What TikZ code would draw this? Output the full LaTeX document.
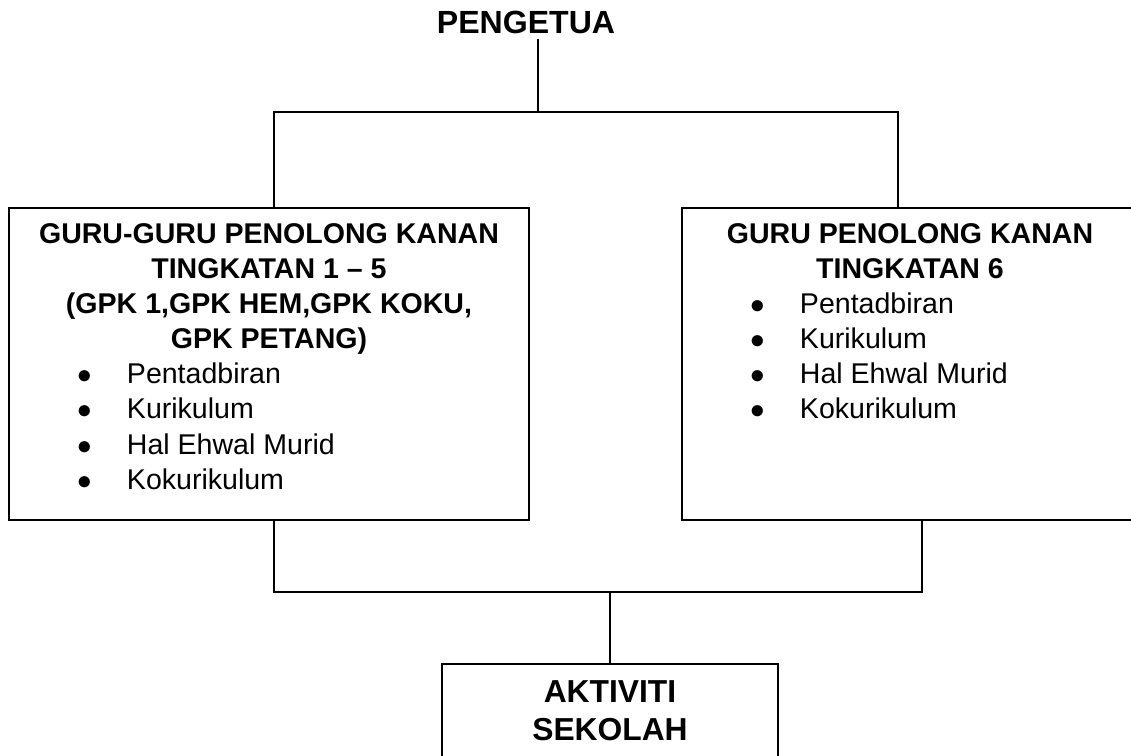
\documentclass[tikz,border=0pt]{standalone}
\usepackage{fontspec}
\setmainfont{Liberation Sans}
\usepackage{tikz}
\usetikzlibrary{calc}

\newcommand{\butir}[1]{\par\noindent\hspace*{1.9cm}\makebox[0pt]{$\bullet$}\hspace*{1.05cm}#1}

\tikzset{
  kotak/.style={draw, line width=1.4pt, inner sep=0pt},
  garis/.style={line width=1.4pt},
  isi/.style={font=\fontsize{20.3pt}{25pt}\selectfont}
}

\begin{document}
\begin{tikzpicture}[x=0.025cm, y=-0.025cm]
      \useasboundingbox (0,0) rectangle (1131,756);
      \clip (0,0) rectangle (1131,756);

      \node [anchor=base, inner sep=4pt, font=\fontsize{22.8pt}{27pt}\selectfont\bfseries] (pengetua) at (526,33) {PENGETUA};

      \node [kotak, isi] (kiri) at (269,364)
            {\parbox[c][7.8cm][t]{13cm}{\vspace*{0.38cm}\centering\bfseries
              GURU-GURU PENOLONG KANAN\\ TINGKATAN 1 – 5\\ (GPK 1,GPK HEM,GPK KOKU,\\ GPK PETANG)\par
              \raggedright\mdseries
              \butir{Pentadbiran}\butir{Kurikulum}\butir{Hal Ehwal Murid}\butir{Kokurikulum}}};
      \node [kotak, isi] (kanan) at (910,364)
            {\parbox[c][7.8cm][t]{11.4cm}{\vspace*{0.38cm}\centering\bfseries
              GURU PENOLONG KANAN\\ TINGKATAN 6\par
              \raggedright\mdseries
              \butir{Pentadbiran}\butir{Kurikulum}\butir{Hal Ehwal Murid}\butir{Kokurikulum}}};
      \node [kotak, font=\fontsize{22.6pt}{27pt}\selectfont\bfseries] (aktiviti) at (610,722)
            {\parbox[c][2.9cm][t]{8.4cm}{\vspace*{0.42cm}\centering AKTIVITI\\ SEKOLAH}};

      \coordinate (simpang) at (538,112);
      \coordinate (a) at (274,112);
      \coordinate (b) at (898,112);
      \coordinate (c) at (274,592);
      \coordinate (d) at (922,592);

      \draw [garis] (pengetua.south -| simpang) -- (simpang);
      \draw [garis] (kiri.north -| a) -- (a) -- (b) -- (kanan.north -| b);
      \draw [garis] (kiri.south -| c) -- (c) -- (d) -- (kanan.south -| d);
      \draw [garis] (c -| aktiviti.north) -- (aktiviti.north);
\end{tikzpicture}
\end{document}
